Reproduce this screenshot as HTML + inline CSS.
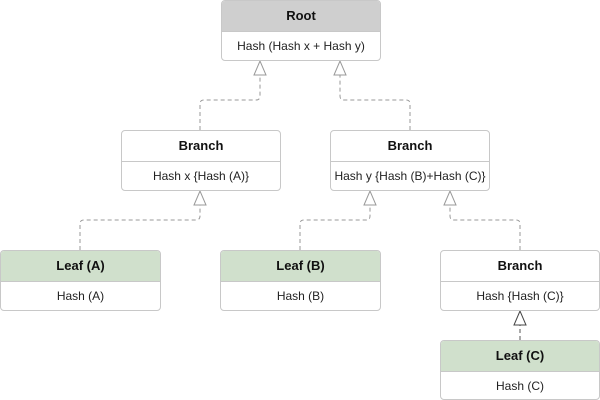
<!DOCTYPE html>
<html><head><style>
body{margin:0;width:600px;height:400px;background:#fff;position:relative;font-family:"Liberation Sans",Arial,sans-serif;overflow:hidden}
.n{position:absolute;box-sizing:border-box;border:1px solid #c8c8c8;border-radius:4px;background:#fff;overflow:hidden}
.h{height:30px;line-height:30px;text-align:center;font-weight:bold;font-size:13px;color:#111;border-bottom:1px solid #c8c8c8}
.b{height:29px;line-height:29px;text-align:center;font-size:12px;color:#222}
.g .h{background:#d0e0cc}.r .h{background:#cfcfcf}
svg{position:absolute;left:0;top:0}
</style></head><body>
<svg width="600" height="400">
<g fill="none" stroke="#999" stroke-dasharray="4,3" stroke-width="1">
<path d="M200 130 V104 Q200 100 204 100 H256 Q260 100 260 96 V75"/>
<path d="M410 130 V104 Q410 100 406 100 H344 Q340 100 340 96 V75"/>
<path d="M80 250 V224 Q80 220 84 220 H196 Q200 220 200 216 V205"/>
<path d="M300 250 V224 Q300 220 304 220 H366 Q370 220 370 216 V205"/>
<path d="M520 250 V224 Q520 220 516 220 H454 Q450 220 450 216 V205"/>
<path d="M520 340 V325" stroke="#555"/>
</g>
<g fill="#fff" stroke="#999">
<path d="M260 61 L254 75 H266 Z"/><path d="M340 61 L334 75 H346 Z"/>
<path d="M200 191 L194 205 H206 Z"/><path d="M370 191 L364 205 H376 Z"/><path d="M450 191 L444 205 H456 Z"/>
<path d="M520 311 L514 325 H526 Z" stroke="#444"/>
</g>
</svg>
<div class="n r" style="left:221px;top:0;width:160px;height:61px"><div class="h">Root</div><div class="b">Hash (Hash x + Hash y)</div></div>
<div class="n" style="left:121px;top:130px;width:160px;height:61px"><div class="h">Branch</div><div class="b">Hash x {Hash (A)}</div></div>
<div class="n" style="left:330px;top:130px;width:160px;height:61px"><div class="h">Branch</div><div class="b">Hash y {Hash (B)+Hash (C)}</div></div>
<div class="n g" style="left:0;top:250px;width:161px;height:61px"><div class="h">Leaf (A)</div><div class="b">Hash (A)</div></div>
<div class="n g" style="left:220px;top:250px;width:161px;height:61px"><div class="h">Leaf (B)</div><div class="b">Hash (B)</div></div>
<div class="n" style="left:440px;top:250px;width:160px;height:61px"><div class="h">Branch</div><div class="b">Hash {Hash (C)}</div></div>
<div class="n g" style="left:440px;top:340px;width:160px;height:60px"><div class="h">Leaf (C)</div><div class="b">Hash (C)</div></div>
</body></html>
